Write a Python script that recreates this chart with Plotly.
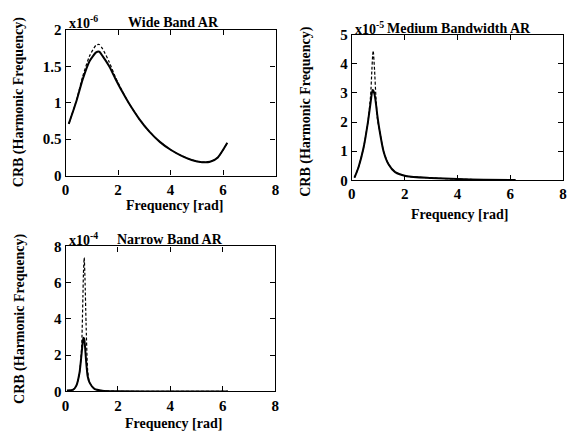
import plotly.graph_objects as go

# Wide band AR: CRB of harmonic frequency (scale x1e-6)
wide_freq = [0.12, 0.41, 0.65, 0.91, 1.16, 1.28, 1.41, 1.66, 1.91, 2.16, 2.4, 2.8,
             3.2, 3.6, 4.0, 4.4, 4.8, 5.2, 5.5, 5.8, 6.16]
wide_solid = [0.71, 1.02, 1.32, 1.57, 1.69, 1.70, 1.64, 1.50, 1.32, 1.15, 1.00, 0.78,
              0.60, 0.46, 0.355, 0.275, 0.215, 0.185, 0.19, 0.25, 0.45]
wide_dashed = [0.71, 1.03, 1.36, 1.64, 1.79, 1.80, 1.74, 1.56, 1.34, 1.16, 1.00, 0.78,
               0.60, 0.46, 0.355, 0.275, 0.215, 0.185, 0.19, 0.25, 0.45]

# Medium bandwidth AR (scale x1e-5)
med_freq = [0.10, 0.25, 0.44, 0.61, 0.71, 0.76, 0.79, 0.81, 0.86, 0.91, 0.97, 1.04,
            1.20, 1.39, 1.64, 2.08, 3.0, 4.0, 5.0, 6.2]
med_solid = [0.09, 0.44, 1.10, 2.00, 2.66, 3.00, 3.10, 3.08, 2.95, 2.66, 2.20, 1.77,
             1.00, 0.55, 0.28, 0.14, 0.08, 0.04, 0.02, 0.01]
med_dashed = [0.09, 0.44, 1.10, 2.00, 2.90, 3.80, 4.30, 4.45, 3.80, 2.90, 2.10, 1.77,
              1.00, 0.55, 0.28, 0.14, 0.08, 0.04, 0.02, 0.01]

# Narrow band AR (scale x1e-4)
nar_freq = [0.05, 0.29, 0.41, 0.53, 0.61, 0.66, 0.68, 0.71, 0.74, 0.78, 0.84, 0.91,
            1.10, 1.40, 2.0, 4.0, 6.2]
nar_solid = [0.05, 0.10, 0.32, 1.03, 2.08, 2.80, 2.96, 2.90, 2.50, 1.73, 0.85, 0.50,
             0.14, 0.04, 0.01, 0.0, 0.0]
nar_dashed = [0.05, 0.10, 0.32, 1.03, 2.40, 5.20, 6.50, 7.38, 6.20, 3.80, 1.20, 0.50,
              0.14, 0.04, 0.01, 0.0, 0.0]

W, H = 568, 438
SERIF = "Liberation Serif"

panels = [
    dict(x=wide_freq, s=wide_solid, d=wide_dashed, box=(62.5, 275.5, 22.7, 174.0),
         yrange=[0, 2], ydtick=0.5, title="Wide Band AR", title_xy=(172, 15),
         exp="x10<sup>-6</sup>", exp_xy=(64, 15), ytitle_xy=(16, 98), xtitle_xy=(173, 205)),
    dict(x=med_freq, s=med_solid, d=med_dashed, box=(352.8, 567.0, 27.7, 178.8),
         yrange=[0, 5], ydtick=1, title="Medium Bandwidth AR", title_xy=(461, 21),
         exp="x10<sup>-5</sup>", exp_xy=(354, 21), ytitle_xy=(306, 108), xtitle_xy=(462, 214)),
    dict(x=nar_freq, s=nar_solid, d=nar_dashed, box=(62.5, 275.0, 247.5, 398.0),
         yrange=[0, 8], ydtick=2, title="Narrow Band AR", title_xy=(168, 240),
         exp="x10<sup>-4</sup>", exp_xy=(64, 240), ytitle_xy=(16, 323), xtitle_xy=(172, 431)),
]

fig = go.Figure()
annotations = []
tick_font = dict(family=SERIF, size=15, color="black", weight=700)
label_font = dict(family=SERIF, size=14, color="black", weight=700)

for i, p in enumerate(panels, start=1):
    xa = "x" if i == 1 else f"x{i}"
    ya = "y" if i == 1 else f"y{i}"
    fig.add_trace(go.Scatter(x=p["x"], y=p["d"], mode="lines", xaxis=xa, yaxis=ya,
                             line=dict(color="black", width=1.2, dash="3px,2px", shape="spline",
                                       smoothing=0.6),
                             showlegend=False))
    fig.add_trace(go.Scatter(x=p["x"], y=p["s"], mode="lines", xaxis=xa, yaxis=ya,
                             line=dict(color="black", width=2, shape="spline", smoothing=0.6),
                             showlegend=False))
    x0, x1, y0, y1 = p["box"]
    axis_common = dict(showline=True, linecolor="black", linewidth=1.3, mirror="ticks",
                       ticks="inside", ticklen=5, tickwidth=1.2, tickcolor="black",
                       showgrid=False, zeroline=False, tickfont=tick_font)
    fig.update_layout({
        ("xaxis" if i == 1 else f"xaxis{i}"): dict(
            domain=[x0 / W, x1 / W], range=[0, 8], dtick=2, anchor=ya, **axis_common),
        ("yaxis" if i == 1 else f"yaxis{i}"): dict(
            domain=[1 - y1 / H, 1 - y0 / H], range=p["yrange"], dtick=p["ydtick"],
            anchor=xa, **axis_common),
    })
    annotations += [
        dict(text=p["title"], x=p["title_xy"][0] / W, y=1 - p["title_xy"][1] / H,
             xanchor="center", yanchor="middle", showarrow=False,
             font=dict(family=SERIF, size=14, color="black", weight=700)),
        dict(text=p["exp"], x=p["exp_xy"][0] / W, y=1 - p["exp_xy"][1] / H,
             xanchor="left", yanchor="middle", showarrow=False,
             font=dict(family=SERIF, size=14, color="black", weight=700)),
        dict(text="CRB (Harmonic Frequency)", x=p["ytitle_xy"][0] / W,
             y=1 - p["ytitle_xy"][1] / H, xanchor="center", yanchor="middle",
             textangle=-90, showarrow=False, font=label_font),
        dict(text="Frequency [rad]", x=p["xtitle_xy"][0] / W, y=1 - p["xtitle_xy"][1] / H,
             xanchor="center", yanchor="middle", showarrow=False, font=label_font),
    ]

fig.update_layout(width=W, height=H, margin=dict(l=0, r=0, t=0, b=0),
                  font=dict(family=SERIF, color="black"),
                  paper_bgcolor="white", plot_bgcolor="white",
                  annotations=annotations, showlegend=False)
for ann in fig.layout.annotations:
    ann.xref = "paper"
    ann.yref = "paper"

fig.write_html("out.html")
